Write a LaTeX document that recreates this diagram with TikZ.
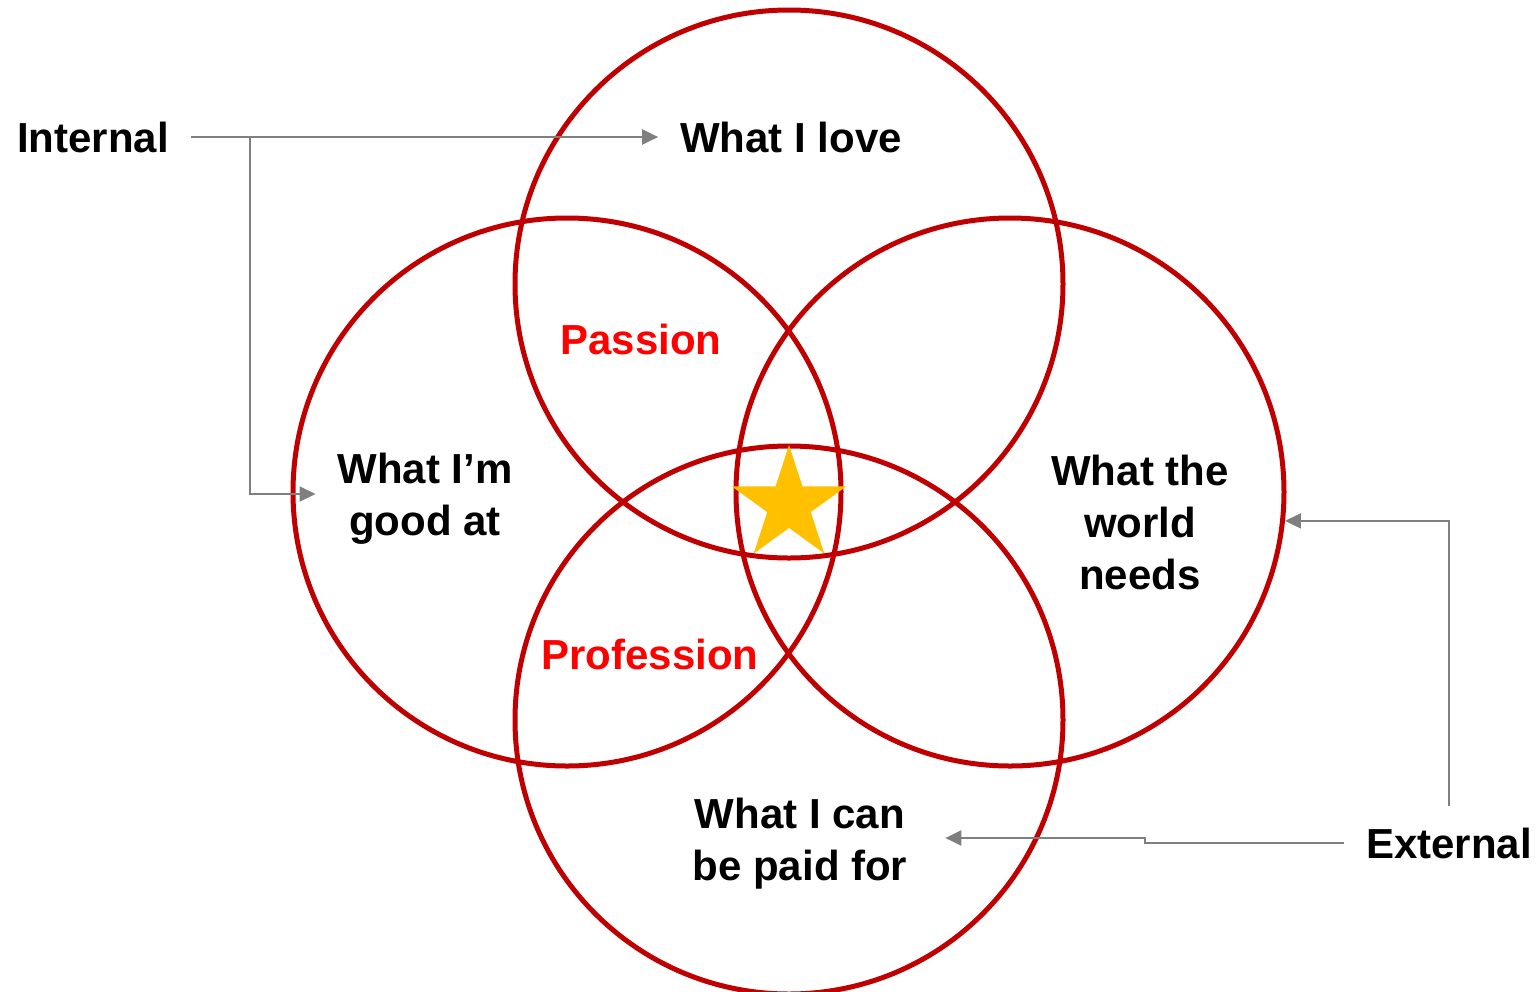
\documentclass[tikz,border=0pt]{standalone}
\usepackage{fontspec}
\setmainfont{Liberation Sans}
\usepackage{tikz}
\usetikzlibrary{arrows.meta}
\usetikzlibrary{shapes.geometric}

\definecolor{ringred}{HTML}{C00000}
\definecolor{wordred}{HTML}{FF0000}
\definecolor{arrowgray}{HTML}{7F7F7F}
\definecolor{gold}{HTML}{FFC000}

\tikzset{
every picture/.style={
line width=2pt
},
ring/.style={circle,draw=ringred,line width=2.5pt,minimum size=274pt,inner sep=0pt},
word/.style={align=center,font=\fontsize{21}{26}\selectfont\bfseries,inner sep=5pt,outer sep=6pt},
pointer/.style={draw=arrowgray,line width=1.1pt,-{Triangle[length=8pt,width=7.5pt]}}
}

\begin{document}
\begin{tikzpicture}[x=0.5pt,y=-0.5pt]
  \useasboundingbox (0,0) rectangle (1539,992);

  % four rings
  \node [ring] at (789,284) (Lc) {};
  \node [ring] at (567,492) (Gc) {};
  \node [ring] at (1010,492) (Wc) {};
  \node [ring] at (789,720) (Pc) {};

  \node [star,star points=5,star point ratio=2.618,fill=gold,minimum size=60pt,inner sep=0pt] at (789,505) (S) {};

  % labels
  \node [word] at (425,499) (G) {What I’m\\good at};
  \node [word] at (791,137) (L) {What I love};
  \node [word] at (1140,522) (W) {What the\\world\\needs};
  \node [word] at (800,844) (P) {What I can\\be paid for};
  \node [word,text=wordred] at (641,339) (Pa) {Passion};
  \node [word,text=wordred] at (650,654) (Pr) {Profession};

  \node [word] at (93,137) (I) {Internal};
  \node [word] at (1449,843) (E) {External};

  % pointers
  \coordinate (Ib) at (250,137);
  \coordinate (Ej) at (1145,838);
  \draw [pointer] (I) -- (L);
  \draw [pointer] (Ib) |- ([yshift=2.5pt]G.west);
  \draw [pointer] (E) |- (Wc.-6);
  \draw [pointer,shorten >=8pt] (E) -| (Ej) -- (Ej -| P.east);

\end{tikzpicture}
\end{document}
